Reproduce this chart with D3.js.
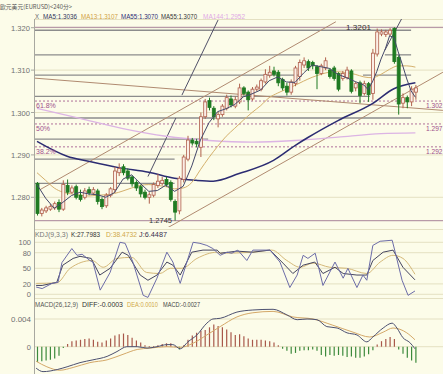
<!DOCTYPE html>
<html>
<head>
<meta charset="utf-8">
<script src="https://cdn.jsdelivr.net/npm/d3@7"></script>
<style>
  body { margin: 0; background: #fcfce9; }
  svg { display: block; font-family: "Liberation Sans", sans-serif; }
</style>
</head>
<body>
<svg id="chart" width="443" height="374"></svg>
<script>
// candles: open, high, low, close (240 min EURUSD)
const candles = [
  [1.2833,1.2836,1.2757,1.2762],[1.2762,1.2775,1.2755,1.2770],[1.2768,1.2780,1.2763,1.2775],[1.2772,1.2784,1.2768,1.2778],
  [1.2775,1.2790,1.2770,1.2785],[1.2788,1.2795,1.2765,1.2772],[1.2772,1.2840,1.2768,1.2830],[1.2828,1.2842,1.2805,1.2812],
  [1.2812,1.2828,1.2808,1.2822],[1.2825,1.2830,1.2795,1.2800],[1.2805,1.2818,1.2790,1.2795],[1.2800,1.2822,1.2795,1.2815],
  [1.2818,1.2825,1.2805,1.2810],[1.2810,1.2824,1.2806,1.2818],[1.2815,1.2820,1.2783,1.2790],[1.2795,1.2800,1.2772,1.2778],
  [1.2780,1.2810,1.2775,1.2805],[1.2805,1.2824,1.2800,1.2820],[1.2818,1.2872,1.2810,1.2862],[1.2858,1.2880,1.2850,1.2868],
  [1.2872,1.2878,1.2852,1.2858],[1.2862,1.2868,1.2840,1.2845],[1.2848,1.2852,1.2825,1.2832],[1.2835,1.2840,1.2815,1.2822],
  [1.2825,1.2830,1.2800,1.2808],[1.2812,1.2818,1.2795,1.2800],[1.2800,1.2812,1.2785,1.2806],[1.2805,1.2835,1.2800,1.2830],
  [1.2828,1.2855,1.2822,1.2838],[1.2833,1.2848,1.2828,1.2840],[1.2842,1.2848,1.2825,1.2830],[1.2835,1.2840,1.2790,1.2795],
  [1.2790,1.2795,1.2745,1.2765],[1.2768,1.2850,1.2760,1.2845],[1.2842,1.2900,1.2835,1.2895],[1.2890,1.2945,1.2885,1.2935],
  [1.2935,1.2940,1.2922,1.2928],[1.2932,1.2938,1.2918,1.2926],[1.2918,1.3000,1.2895,1.2990],[1.2990,1.3032,1.2985,1.3025],
  [1.3028,1.3035,1.3005,1.3012],[1.3010,1.3015,1.2982,1.2990],[1.2985,1.3002,1.2965,1.2995],[1.2995,1.3020,1.2990,1.3015],
  [1.3010,1.3042,1.3005,1.3035],[1.3032,1.3040,1.3012,1.3018],[1.3015,1.3038,1.3010,1.3030],[1.3025,1.3068,1.3020,1.3058],
  [1.3058,1.3062,1.3040,1.3045],[1.3048,1.3052,1.3005,1.3030],[1.3032,1.3060,1.3028,1.3055],[1.3055,1.3066,1.3050,1.3060],
  [1.3055,1.3080,1.3050,1.3075],[1.3072,1.3102,1.3068,1.3090],[1.3088,1.3110,1.3082,1.3095],[1.3098,1.3108,1.3085,1.3090],
  [1.3095,1.3100,1.3062,1.3070],[1.3078,1.3082,1.3052,1.3058],[1.3062,1.3070,1.3040,1.3048],[1.3048,1.3078,1.3042,1.3072],
  [1.3068,1.3110,1.3062,1.3105],[1.3085,1.3125,1.3075,1.3118],[1.3112,1.3130,1.3105,1.3122],[1.3120,1.3125,1.3098,1.3105],
  [1.3118,1.3122,1.3102,1.3110],[1.3108,1.3112,1.3055,1.3092],[1.3092,1.3115,1.3088,1.3110],[1.3105,1.3130,1.3100,1.3122],
  [1.3100,1.3105,1.3080,1.3085],[1.3105,1.3110,1.3075,1.3080],[1.3092,1.3095,1.3050,1.3055],[1.3080,1.3098,1.3075,1.3092],
  [1.3082,1.3108,1.3078,1.3100],[1.3098,1.3102,1.3045,1.3050],[1.3058,1.3072,1.3050,1.3068],[1.3070,1.3075,1.3022,1.3040],
  [1.3045,1.3075,1.3040,1.3068],[1.3068,1.3072,1.3025,1.3042],[1.3045,1.3150,1.3030,1.3140],[1.3138,1.3198,1.3132,1.3190],
  [1.3185,1.3196,1.3180,1.3190],[1.3184,1.3195,1.3178,1.3190],[1.3185,1.3199,1.3180,1.3194],[1.3198,1.3201,1.3115,1.3120],
  [1.3130,1.3135,1.2995,1.3020],[1.3022,1.3045,1.3010,1.3035],[1.3035,1.3040,1.3010,1.3025],[1.3025,1.3062,1.3015,1.3055],
  [1.3048,1.3065,1.3030,1.3058]
];

// moving averages: [bar index, value]
const ma5 = [[0,1.2830],[2,1.2798],[4,1.2774],[6,1.2788],[8,1.2804],[10,1.2812],[12,1.2808],[14,1.2806],[16,1.2800],
  [18,1.2811],[20,1.2843],[22,1.2853],[24,1.2833],[26,1.2814],[28,1.2816],[30,1.2829],[32,1.2814],[34,1.2826],[36,1.2874],
  [38,1.2935],[40,1.2976],[42,1.3002],[44,1.3009],[46,1.3019],[48,1.3037],[50,1.3044],[52,1.3053],[54,1.3075],[56,1.3084],
  [58,1.3072],[60,1.3071],[62,1.3093],[64,1.3112],[66,1.3108],[68,1.3104],[70,1.3090],[72,1.3082],[74,1.3073],[76,1.3065],
  [77,1.3054],[78,1.3072],[79,1.3096],[80,1.3126],[81,1.3150],[82,1.3181],[83,1.3177],[84,1.3143],[85,1.3112],[86,1.3079],
  [87,1.3051],[88,1.3036]];
const ma13 = [[0,1.2858],[2,1.2840],[4,1.2822],[6,1.2812],[8,1.2808],[10,1.2805],[12,1.2803],[14,1.2805],[16,1.2806],
  [18,1.2809],[20,1.2815],[22,1.2822],[24,1.2828],[26,1.2830],[28,1.2828],[30,1.2825],[32,1.2820],[34,1.2822],[36,1.2835],
  [38,1.2865],[40,1.2894],[42,1.2920],[44,1.2944],[46,1.2963],[48,1.2982],[50,1.3000],[52,1.3016],[54,1.3035],[56,1.3046],
  [58,1.3055],[60,1.3064],[62,1.3074],[64,1.3083],[66,1.3090],[68,1.3095],[70,1.3096],[72,1.3094],[74,1.3090],[76,1.3084],
  [78,1.3082],[80,1.3090],[82,1.3102],[84,1.3110],[86,1.3110],[88,1.3107]];
const ma55 = [[0,1.2932],[7,1.2897],[12,1.2885],[19,1.2870],[26,1.2859],[32,1.2845],[37,1.2840],[41,1.2838],[47,1.2856],
  [55,1.2887],[60,1.2922],[63,1.2941],[70,1.2981],[78,1.3021],[83,1.3056],[88,1.3070]];
const ma144 = [[0,1.3010],[10,1.2986],[20,1.2962],[30,1.2944],[40,1.2934],[50,1.2930],[60,1.2934],[70,1.2942],[80,1.2950],[88,1.2952]];

const priceTicks = [1.320, 1.310, 1.300, 1.290, 1.280];
const rangeHigh = 1.3201;
const rangeLow = 1.2745;
const fibLevels = [1.3027, 1.2973, 1.2919];
const fibNames = ['61.8%', '50%', '38.2%'];
const fibRight = ['1.302', '1.297', '1.292'];
// horizontal levels: [price, from bar, to bar]
const levels = [[1.3194,-0.5,87],[1.3136,-0.5,61.2],[1.3136,80.9,87],[1.3088,-0.5,61.2],[1.3088,75.8,87],
  [1.3038,-0.5,77.4],[1.2987,-0.5,87],[1.2937,-0.5,39.8],[1.2890,-0.5,32],[1.2833,-0.5,32]];
// drawn trend lines: [bar0, price0, bar1, price1]
const channelLines = [[-0.5,1.3081,94.4,1.3005],[0.7,1.2818,69.5,1.3214],[29.3,1.2722,94.4,1.3095]];
const steepLines = [[25.8,1.2849,32.3,1.2987],[33.7,1.3041,42.1,1.3218],[80.9,1.3147,84.9,1.3223]];

const kLine = [[-0.2,17],[1.2,17],[4.6,23],[6,56],[8.4,69],[10,73],[12.6,69],[14.6,37],[17,50],[19.8,81],[21.2,75],
  [24,37],[25.8,27],[27.9,37],[30.2,62],[31.6,56],[33.3,37],[36,81],[38.6,85],[41.9,85],[42.6,79],[46.5,83],[50.2,81],
  [54.2,85],[57.2,60],[59.5,40],[61.9,56],[64.6,62],[66.5,40],[69.3,52],[71.2,40],[74.4,37],[76.7,37],[78.1,65],
  [80.5,81],[82.8,85],[85.1,52],[87.9,27.8]];
const dLine = [[-0.2,21],[4.6,22],[7.7,50],[12.8,65],[15.4,52],[18.6,69],[22,71],[25.5,42],[28.6,40],[31,50],[33.7,50],
  [37.2,69],[41.9,81],[42.6,79],[50.2,81],[54.6,85],[58.1,65],[61.2,52],[64.2,60],[68.1,52],[72,50],[76.7,40],[79.8,62],
  [82.8,75],[85.1,69],[87.9,38.5]];
const jLine = [[-0.2,14],[1.2,11],[3.5,21],[4.9,23],[5.8,61],[8.1,88],[9.3,75],[10.5,77],[12.3,65],[13,62],[14.7,8],
  [17,42],[19.3,100],[20.5,98],[22.3,62],[24.7,-2],[25.8,-6],[27.9,31],[30.2,81],[31.6,62],[33.3,21],[36.3,100],[37.9,98],
  [39.5,94],[40.9,88],[42.6,75],[44.2,81],[45.3,79],[46.7,85],[48.8,65],[50.2,85],[54.2,85],[56.5,62],[58.8,13],[60.5,37],
  [61.9,75],[63,69],[64.7,79],[66.5,17],[69.3,62],[71.2,31],[72.3,50],[74.4,13],[75.8,37],[76.7,27],[78.1,94],[79.8,102],
  [82.6,104],[83.3,81],[84.9,27],[86.3,-2],[87.9,6.4]];
const kdjTicks = [100, 80, 50, 20, 0];

const diffLine = [[-0.2,-0.0031],[1.4,-0.0036],[4.7,-0.0033],[7,-0.0029],[10,-0.0023],[13,-0.0019],[16.3,-0.0014],
  [18.6,-0.0007],[20.9,0],[23.3,0],[25.6,-0.0002],[27.9,0],[30.2,0.0003],[31.6,0.0003],[33.3,-0.0003],[35.1,0.0007],
  [37.2,0.0017],[39.5,0.0034],[40.9,0.0040],[42.6,0.0041],[46.5,0.0050],[50.2,0.0053],[54.9,0.0054],[58.1,0.0046],
  [60.5,0.0039],[62.8,0.0040],[65.1,0.0039],[67.4,0.0029],[69.8,0.0027],[72.1,0.0020],[74.4,0.0017],[76.7,0.0007],
  [78.1,0.0014],[80.5,0.0027],[82.6,0.0034],[83.7,0.0027],[85.1,0.0013],[86.7,0.0006],[87.9,-0.0003]];
const deaLine = [[-0.2,-0.0021],[2.3,-0.0029],[5.3,-0.0034],[8.4,-0.0030],[12.3,-0.0023],[16.3,-0.0019],[20,-0.0011],
  [23.3,-0.0004],[26.3,-0.0002],[30.2,0],[33.3,-0.0001],[36.3,0.0005],[39.5,0.0017],[42.6,0.0029],[46.5,0.0043],
  [50.2,0.0049],[54.9,0.0051],[59.5,0.0043],[64.2,0.0040],[68.8,0.0031],[73.5,0.0021],[77.4,0.0014],[80.5,0.0021],
  [82.8,0.0027],[86,0.0020],[87.9,0.0010]];
const macdHist = [-0.0022,-0.0021,-0.0020,-0.0019,-0.0017,-0.0013,-0.0002,0.0004,0.0008,0.0009,0.0010,0.0011,0.0012,
  0.0010,0.0007,0.0006,0.0009,0.0012,0.0016,0.0018,0.0019,0.0017,0.0013,0.0009,0.0006,0.0002,0.0001,0.0001,0.0002,0.0004,
  0.0005,0.0005,0.0001,-0.0004,0.0002,0.0010,0.0016,0.0020,0.0023,0.0024,0.0028,0.0032,0.0030,0.0028,0.0025,0.0021,
  0.0017,0.0018,0.0015,0.0012,0.0010,0.0010,0.0010,0.0009,0.0008,0.0006,0.0002,-0.0003,-0.0006,-0.0010,-0.0009,-0.0006,
  -0.0005,-0.0005,-0.0004,-0.0006,-0.0012,-0.0014,-0.0012,-0.0013,-0.0012,-0.0013,-0.0015,-0.0014,-0.0016,-0.0016,
  -0.0014,-0.0011,-0.0005,0.0003,0.0008,0.0011,0.0014,0.0011,-0.0004,-0.0010,-0.0016,-0.0020,-0.0023];
const macdTicks = [0.004, 0];

const legendMain = ['X', 'MA5:1.3036', 'MA13:1.3107', 'MA55:1.3070', 'MA55:1.3070', 'MA144:1.2952'];
const legendKdj = ['KDJ(9,3,3)', 'K:27.7983', 'D:38.4732', 'J:6.4487'];
const legendMacd = ['MACD(26,12,9)', 'DIFF:-0.0003', 'DEA:0.0010', 'MACD:-0.0027'];

let svg = d3.select('#chart');
let W = +svg.attr('width');

let x = d3.scaleLinear().domain([0, 88]).range([37, 415.4]);
let y = d3.scaleLinear().domain([1.28, 1.32]).range([197.3, 27.7]);
let yk = d3.scaleLinear().domain([0, 100]).range([294.3, 242.3]);
let ym = d3.scaleLinear().domain([0, 0.004]).range([346.7, 319]);

let defs = svg.append('defs');
defs.append('clipPath').attr('id', 'clipMain').append('rect').attr('x', 35).attr('y', 19).attr('width', W - 35).attr('height', 208);
defs.append('clipPath').attr('id', 'clipKdj').append('rect').attr('x', 35).attr('y', 230).attr('width', W - 35).attr('height', 68);
defs.append('clipPath').attr('id', 'clipMacd').append('rect').attr('x', 35).attr('y', 299).attr('width', W - 35).attr('height', 75);

const gridColor = '#e4e0c2';

// title
svg.append('text').attr('x', 0).attr('y', 9).attr('font-size', 6)
  .attr('font-family', '"Noto Sans CJK SC", sans-serif').attr('fill', '#555')
  .attr('textLength', 72).attr('lengthAdjust', 'spacingAndGlyphs')
  .text('欧元美元(EURUSD)<240分>');

// panel separators
[19.5, 229.5, 298.5].forEach(v => {
  svg.append('line').attr('x1', 35).attr('x2', W).attr('y1', v).attr('y2', v).attr('stroke', gridColor);
});
svg.append('line').attr('x1', 34.5).attr('x2', 34.5).attr('y1', 19).attr('y2', 374).attr('stroke', '#a8a8a0');

// ---------- main panel ----------
let main = svg.append('g').attr('clip-path', 'url(#clipMain)');

main.selectAll('line.grid').data(priceTicks).enter().append('line')
  .attr('x1', 35).attr('x2', W)
  .attr('y1', d => y(d)).attr('y2', d => y(d))
  .attr('stroke', gridColor);

main.selectAll('line.lvl').data(levels).enter().append('line')
  .attr('x1', d => x(d[1])).attr('x2', d => x(d[2]))
  .attr('y1', d => y(d[0])).attr('y2', d => y(d[0]))
  .attr('stroke', '#8c8c8c').attr('stroke-width', 1.3);

main.selectAll('line.range').data([rangeHigh, rangeLow]).enter().append('line')
  .attr('x1', 35).attr('x2', W)
  .attr('y1', d => y(d)).attr('y2', d => y(d))
  .attr('stroke', '#b89aa8').attr('stroke-width', 1.3);

main.selectAll('line.fib').data(fibLevels).enter().append('line')
  .attr('x1', 35).attr('x2', W)
  .attr('y1', d => y(d)).attr('y2', d => y(d))
  .attr('stroke', '#b0709a').attr('stroke-dasharray', '2,2');

main.selectAll('line.chan').data(channelLines).enter().append('line')
  .attr('x1', d => x(d[0])).attr('y1', d => y(d[1]))
  .attr('x2', d => x(d[2])).attr('y2', d => y(d[3]))
  .attr('stroke', '#b08a70').attr('stroke-width', 1);

main.selectAll('line.steep').data(steepLines).enter().append('line')
  .attr('x1', d => x(d[0])).attr('y1', d => y(d[1]))
  .attr('x2', d => x(d[2])).attr('y2', d => y(d[3]))
  .attr('stroke', '#505068').attr('stroke-width', 1);

let maLine = d3.line().x(d => x(d[0])).y(d => y(d[1])).curve(d3.curveMonotoneX);
main.append('path').datum(ma144).attr('d', maLine).attr('fill', 'none').attr('stroke', '#dcb4e4').attr('stroke-width', 1.3);
main.append('path').datum(ma55).attr('d', maLine).attr('fill', 'none').attr('stroke', '#2c2c72').attr('stroke-width', 1.5);
main.append('path').datum(ma13).attr('d', maLine).attr('fill', 'none').attr('stroke', '#d4b06c').attr('stroke-width', 1);

// candles
let candle = main.selectAll('g.candle').data(candles).enter().append('g');
candle.append('line')
  .attr('x1', (d, i) => x(i) + 0.5).attr('x2', (d, i) => x(i) + 0.5)
  .attr('y1', d => y(d[1])).attr('y2', d => y(d[2]))
  .attr('stroke', d => d[3] >= d[0] ? '#b0604c' : '#1f7a22');
candle.append('rect')
  .attr('x', (d, i) => x(i) - 1)
  .attr('width', 3)
  .attr('y', d => y(Math.max(d[0], d[3])))
  .attr('height', d => Math.max(1, Math.abs(y(d[0]) - y(d[3]))))
  .attr('fill', d => d[3] >= d[0] ? '#fbeee6' : '#1f7a22')
  .attr('stroke', d => d[3] >= d[0] ? '#b0604c' : '#1f7a22')
  .attr('stroke-width', 0.8);

main.append('path').datum(ma5).attr('d', d3.line().x(d => x(d[0])).y(d => y(d[1])))
  .attr('fill', 'none').attr('stroke', '#44486a').attr('stroke-width', 1);

// price labels
svg.selectAll('text.pt').data(priceTicks).enter().append('text')
  .attr('x', 30).attr('y', d => y(d) + 3)
  .attr('text-anchor', 'end').attr('font-size', 7.5).attr('fill', '#707070')
  .attr('textLength', 19).attr('lengthAdjust', 'spacingAndGlyphs')
  .text(d => d.toFixed(3));
svg.selectAll('line.tk').data(priceTicks).enter().append('line')
  .attr('x1', 31).attr('x2', 35).attr('y1', d => y(d)).attr('y2', d => y(d)).attr('stroke', '#a8a8a0');

svg.selectAll('text.fibl').data(fibLevels).enter().append('text')
  .attr('x', 36).attr('y', d => y(d) + 7)
  .attr('font-size', 7).attr('fill', '#a0508c')
  .text((d, i) => fibNames[i]);
svg.selectAll('text.fibr').data(fibLevels).enter().append('text')
  .attr('x', 426).attr('y', d => y(d) + 7)
  .attr('font-size', 6.8).attr('fill', '#a0508c')
  .attr('textLength', 16.5).attr('lengthAdjust', 'spacingAndGlyphs')
  .text((d, i) => fibRight[i]);

svg.append('text').attr('x', 346).attr('y', y(rangeHigh) + 2.5).attr('font-size', 7.5).attr('fill', '#333')
  .attr('textLength', 25).attr('lengthAdjust', 'spacingAndGlyphs').text(rangeHigh.toFixed(4));
svg.append('text').attr('x', 149).attr('y', y(rangeLow) + 2.5).attr('font-size', 7.5).attr('fill', '#333')
  .attr('textLength', 23).attr('lengthAdjust', 'spacingAndGlyphs').text(rangeLow.toFixed(4));

// legends
function legend(items, xs, ws, colors, yy) {
  items.forEach((t, i) => {
    svg.append('text').attr('x', xs[i]).attr('y', yy).attr('font-size', 6.5)
      .attr('fill', colors[i]).attr('textLength', ws[i]).attr('lengthAdjust', 'spacingAndGlyphs').text(t);
  });
}
legend(legendMain, [35, 43, 81, 121, 161, 203], [4, 34, 37, 37, 36, 42],
  ['#666', '#30345a', '#d0a040', '#2c2c72', '#333', '#e0a8e4'], 19);
legend(legendKdj, [35, 71, 106, 139], [33, 29, 31, 28], ['#777', '#333', '#d0a848', '#3a3050'], 236.5);
legend(legendMacd, [35, 82, 127, 163], [43, 41, 31, 37], ['#555', '#333', '#d0a848', '#444'], 306.5);

// ---------- KDJ panel ----------
let kdj = svg.append('g').attr('clip-path', 'url(#clipKdj)');
kdj.selectAll('line.kg').data(kdjTicks).enter().append('line')
  .attr('x1', 35).attr('x2', W).attr('y1', d => yk(d)).attr('y2', d => yk(d)).attr('stroke', gridColor);
let kdjLine = d3.line().x(d => x(d[0])).y(d => yk(d[1]));
kdj.append('path').datum(dLine).attr('d', kdjLine.curve(d3.curveMonotoneX)).attr('fill', 'none').attr('stroke', '#d4b878').attr('stroke-width', 1);
kdj.append('path').datum(kLine).attr('d', kdjLine.curve(d3.curveLinear)).attr('fill', 'none').attr('stroke', '#454560').attr('stroke-width', 1);
kdj.append('path').datum(jLine).attr('d', kdjLine).attr('fill', 'none').attr('stroke', '#6c6ca8').attr('stroke-width', 1);
svg.selectAll('text.kt').data(kdjTicks).enter().append('text')
  .attr('x', 31).attr('y', d => yk(d) + 3).attr('text-anchor', 'end').attr('font-size', 7.5).attr('fill', '#707070')
  .text(d => d);

// ---------- MACD panel ----------
let macd = svg.append('g').attr('clip-path', 'url(#clipMacd)');
macd.selectAll('line.mg').data(macdTicks).enter().append('line')
  .attr('x1', 35).attr('x2', W).attr('y1', d => ym(d)).attr('y2', d => ym(d)).attr('stroke', gridColor);
macd.selectAll('line.bar').data(macdHist).enter().append('line')
  .attr('x1', (d, i) => x(i) + 0.5).attr('x2', (d, i) => x(i) + 0.5)
  .attr('y1', ym(0)).attr('y2', d => ym(d))
  .attr('stroke', d => d >= 0 ? '#a8584a' : '#3c8a3c').attr('stroke-width', 1.2);
let mLine = d3.line().x(d => x(d[0])).y(d => ym(d[1])).curve(d3.curveMonotoneX);
macd.append('path').datum(deaLine).attr('d', mLine).attr('fill', 'none').attr('stroke', '#d4a868').attr('stroke-width', 1);
macd.append('path').datum(diffLine).attr('d', mLine).attr('fill', 'none').attr('stroke', '#4c5070').attr('stroke-width', 1);
svg.selectAll('text.mt').data(macdTicks).enter().append('text')
  .attr('x', 31).attr('y', d => ym(d) + 3).attr('text-anchor', 'end').attr('font-size', 7.5).attr('fill', '#707070')
  .attr('textLength', d => d === 0 ? null : 20).attr('lengthAdjust', 'spacingAndGlyphs')
  .text(d => d === 0 ? '0' : d.toFixed(3));
</script>
</body>
</html>
